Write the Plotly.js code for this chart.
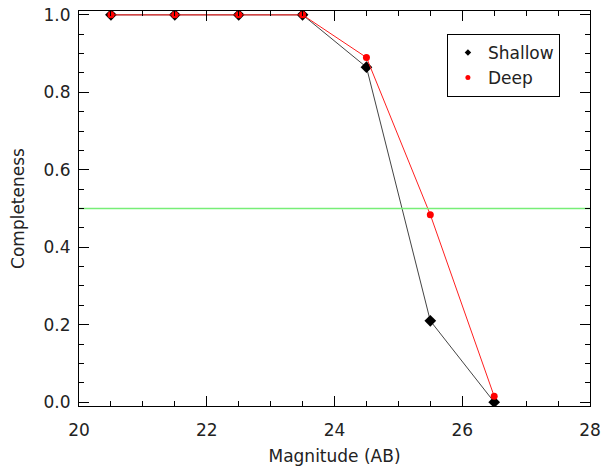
<!DOCTYPE html>
<html><head><meta charset="utf-8">
<script src="https://cdn.plot.ly/plotly-3.0.1.min.js"></script>
<style>body{margin:0;background:#fff}#c{width:603px;height:469px}</style>
</head><body><div id="c"></div>
<script>
const magnitudes = [20.5, 21.5, 22.5, 23.5, 24.5, 25.5, 26.5];
const shallow = [1.0, 1.0, 1.0, 1.0, 0.865, 0.21, 0.0];
const deep = [1.0, 1.0, 1.0, 1.0, 0.89, 0.484, 0.015];
const threshold = 0.5;
const xRange = [20, 28];
const yRange = [-0.01, 1.01];

const fnt = {family: 'DejaVu Sans, sans-serif', size: 17, color: '#222'};
const traces = [
  {x: magnitudes, y: shallow, mode: 'markers', name: 'Shallow', marker: {symbol: 'diamond', color: 'black', size: 5}},
  {x: magnitudes, y: deep, mode: 'markers', name: 'Deep', marker: {symbol: 'circle', color: 'red', size: 5}},
  {x: magnitudes, y: shallow, mode: 'lines+markers', line: {color: '#444', width: 1}, showlegend: false,
   marker: {symbol: 'diamond', color: 'black', size: 9}},
  {x: magnitudes, y: deep, mode: 'lines+markers', line: {color: '#ff2020', width: 1}, showlegend: false,
   marker: {symbol: 'circle', color: 'red', size: 7}},
  {x: xRange, y: [threshold, threshold], mode: 'lines', line: {color: '#77ee77', width: 1.5}, showlegend: false}
];
const layout = {
  width: 603, height: 469,
  margin: {l: 79, r: 13, t: 11, b: 63},
  paper_bgcolor: 'white', plot_bgcolor: 'white',
  font: fnt,
  showlegend: true,
  legend: {x: 0.72, y: 0.942, xanchor: 'left', yanchor: 'top', bordercolor: 'black', borderwidth: 1,
           bgcolor: 'white', font: {family: 'DejaVu Sans, sans-serif', size: 17, color: '#222'},
           tracegroupgap: 0, itemwidth: 30},
  xaxis: {range: xRange, dtick: 2, tick0: 20, ticks: 'inside', ticklen: 10, tickwidth: 1, tickcolor: 'black',
          showline: true, linecolor: 'black', linewidth: 1, mirror: 'ticks', showgrid: false, zeroline: false,
          minor: {dtick: 0.5, ticks: 'inside', ticklen: 5, tickcolor: 'black', showgrid: false},
          ticklabelstandoff: 9,
          title: {text: 'Magnitude (AB)', font: fnt, standoff: 10}},
  yaxis: {range: yRange, dtick: 0.2, tick0: 0, ticks: 'inside', ticklen: 10, tickwidth: 1, tickcolor: 'black',
          tickformat: '.1f',
          showline: true, linecolor: 'black', linewidth: 1, mirror: 'ticks', showgrid: false, zeroline: false,
          minor: {dtick: 0.05, ticks: 'inside', ticklen: 5, tickcolor: 'black', showgrid: false},
          ticklabelstandoff: 4,
          title: {text: 'Completeness', font: fnt, standoff: 14}}
};
Plotly.newPlot('c', traces, layout, {displayModeBar: false, staticPlot: true});
</script></body></html>
